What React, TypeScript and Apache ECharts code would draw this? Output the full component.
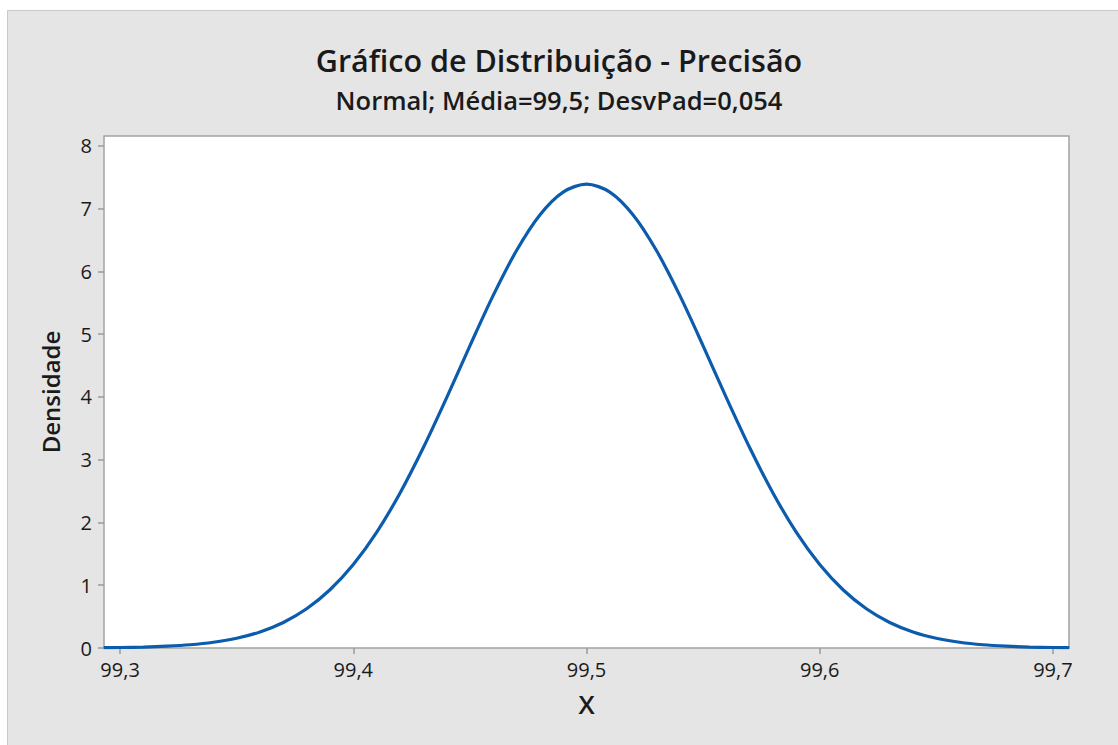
import React, { useEffect, useRef } from "react";
import * as echarts from "echarts";

const titleText = "Gráfico de Distribuição - Precisão";
const subtitleText = "Normal; Média=99,5; DesvPad=0,054";
const xAxisName = "X";
const yAxisName = "Densidade";

// Tick values
const xTicks = [99.3, 99.4, 99.5, 99.6, 99.7];
const yTicks = [0, 1, 2, 3, 4, 5, 6, 7, 8];

// X values
const xValues = [
  99.293, 99.30, 99.31, 99.32, 99.33, 99.34, 99.35, 99.36, 99.37, 99.38, 99.39,
  99.40, 99.41, 99.42, 99.43, 99.44, 99.45, 99.46, 99.47, 99.48, 99.49,
  99.50, 99.51, 99.52, 99.53, 99.54, 99.55, 99.56, 99.57, 99.58, 99.59,
  99.60, 99.61, 99.62, 99.63, 99.64, 99.65, 99.66, 99.67, 99.68, 99.69,
  99.70, 99.707,
];

// Density values
const densityValues = [
  0.005, 0.008, 0.015, 0.029, 0.052, 0.092, 0.156, 0.256, 0.407, 0.625, 0.928,
  1.33, 1.842, 2.465, 3.189, 3.985, 4.813, 5.616, 6.331, 6.898, 7.262,
  7.388, 7.262, 6.898, 6.331, 5.616, 4.813, 3.985, 3.189, 2.465, 1.842,
  1.33, 0.928, 0.625, 0.407, 0.256, 0.156, 0.092, 0.052, 0.029, 0.015,
  0.008, 0.005,
];

const FONT = "'Open Sans', 'Noto Sans', sans-serif";
const TEXT = "#1a1a1a";

export default function App() {
  const ref = useRef<HTMLDivElement>(null);

  useEffect(() => {
    document.body.style.margin = "0";
    const chart = echarts.init(ref.current!, null, { renderer: "svg" });
    const data = xValues.map((x, i) => [x, densityValues[i]]);
    chart.setOption({
      animation: false,
      backgroundColor: "#ffffff",
      graphic: [
        {
          type: "rect",
          z: -10,
          silent: true,
          shape: { x: 7.5, y: 10.5, width: 1120, height: 740 },
          style: { fill: "#e5e5e5", stroke: "#c9c9c9", lineWidth: 1 },
        },
      ],
      title: [
        {
          text: titleText,
          left: "center",
          top: 44,
          padding: 0,
          textStyle: { fontFamily: FONT, fontSize: 30.5, fontWeight: 600, color: TEXT, lineHeight: 32 },
        },
        {
          text: subtitleText,
          left: "center",
          top: 86,
          padding: 0,
          textStyle: { fontFamily: FONT, fontSize: 25.5, fontWeight: 600, color: TEXT, lineHeight: 27 },
        },
      ],
      grid: {
        left: 104,
        right: 49,
        top: 136,
        bottom: 97,
        containLabel: false,
        show: true,
        backgroundColor: "#ffffff",
        borderColor: "#a3a3a3",
        borderWidth: 1.5,
      },
      xAxis: {
        type: "value",
        min: 99.2931,
        max: 99.7069,
        name: xAxisName,
        nameLocation: "middle",
        nameGap: 43,
        nameTextStyle: { fontFamily: FONT, fontSize: 26, fontWeight: 600, color: TEXT },
        axisLine: { show: false },
        axisTick: {
          show: true,
          length: 6,
          customValues: xTicks,
          lineStyle: { color: "#9a9a9a", width: 1.5 },
        },
        axisLabel: {
          fontFamily: FONT,
          fontSize: 20,
          color: TEXT,
          margin: 11,
          customValues: xTicks,
          formatter: (v: number) => v.toFixed(1).replace(".", ","),
        },
        splitLine: { show: false },
      },
      yAxis: {
        type: "value",
        min: 0,
        max: 8.155,
        name: yAxisName,
        nameLocation: "middle",
        nameGap: 42,
        nameTextStyle: { fontFamily: FONT, fontSize: 24, fontWeight: 600, color: TEXT },
        axisLine: { show: false },
        axisTick: {
          show: true,
          length: 6,
          customValues: yTicks,
          lineStyle: { color: "#9a9a9a", width: 1.5 },
        },
        axisLabel: {
          fontFamily: FONT,
          fontSize: 20,
          color: TEXT,
          margin: 12,
          customValues: yTicks,
          formatter: (v: number) => String(v),
        },
        splitLine: { show: false },
      },
      series: [
        {
          type: "line",
          data,
          smooth: 0.3,
          clip: true,
          showSymbol: false,
          symbol: "none",
          lineStyle: { color: "#0b5cad", width: 3.2 },
        },
      ],
    });
    return () => chart.dispose();
  }, []);

  return <div ref={ref} style={{ width: 1118, height: 745 }} />;
}
